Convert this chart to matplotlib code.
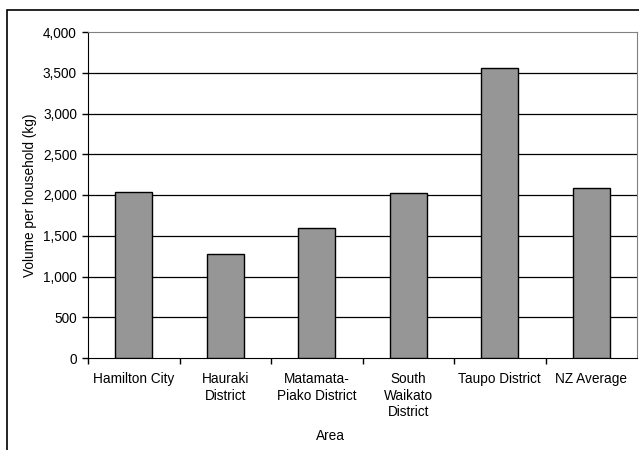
import matplotlib.pyplot as plt
from matplotlib.patches import Rectangle

areas = ["Hamilton City", "Hauraki\nDistrict", "Matamata-\nPiako District",
         "South\nWaikato\nDistrict", "Taupo District", "NZ Average"]
volumes = [2040, 1280, 1590, 2030, 3560, 2090]
y_ticks = [0, 500, 1000, 1500, 2000, 2500, 3000, 3500, 4000]

plt.rcParams['font.family'] = ['Liberation Sans', 'DejaVu Sans']
plt.rcParams['font.size'] = 9.8

fig = plt.figure(figsize=(6.39, 4.5), dpi=100)
ax = fig.add_axes([88 / 639, 1 - 358 / 450, (637 - 88) / 639, (358 - 32) / 450])

positions = list(range(len(areas)))
ax.bar(positions, volumes, width=0.4, color='#969696', edgecolor='black', linewidth=1, zorder=3)

ax.set_xlim(-0.5, len(areas) - 0.5)
ax.set_ylim(0, 4000)
ax.set_yticks(y_ticks)
ax.set_yticklabels(["{:,}".format(v) for v in y_ticks])
for v in y_ticks[1:-1]:
    ax.axhline(v, color='black', linewidth=0.9, zorder=1)

ax.set_xticks([p + 0.5 for p in positions[:-1]] + [-0.5])
ax.set_xticklabels([])
ax.set_xticks(positions, minor=True)
ax.set_xticklabels(areas, minor=True, linespacing=1.25)
ax.tick_params(axis='x', which='major', direction='out', length=4, width=1, color='black')
ax.tick_params(axis='x', which='minor', length=0, pad=10)
ax.tick_params(axis='y', direction='out', length=4, width=1, pad=4)

ax.spines['left'].set_color('black')
ax.spines['bottom'].set_color('black')
ax.spines['top'].set_color('#808080')
ax.spines['right'].set_color('#808080')

ax.set_ylabel("Volume per household (kg)", labelpad=4)
fig.text(330 / 639, 1 - 436 / 450, "Area", ha='center', va='center')

# outer chart border
fig.patches.append(Rectangle((7 / 639, -0.1), 1.0, 1 - 10 / 450 + 0.1,
                             transform=fig.transFigure, fill=False,
                             edgecolor='black', linewidth=1.2))

fig.savefig("out.png", dpi=100)
